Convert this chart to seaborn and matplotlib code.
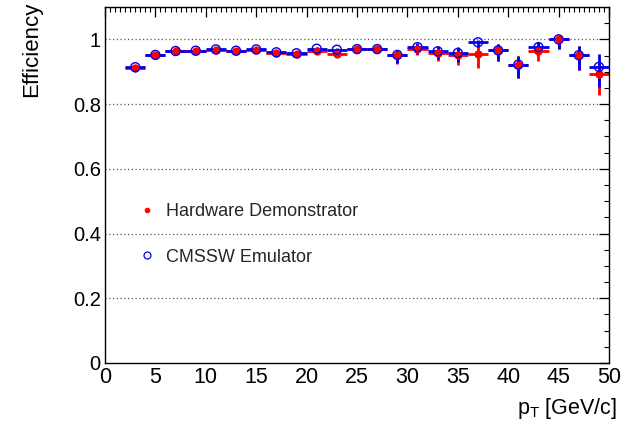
import numpy as np
import pandas as pd
import matplotlib
matplotlib.use("Agg")
import matplotlib.pyplot as plt
from matplotlib.ticker import MultipleLocator
from matplotlib.lines import Line2D
import seaborn as sns

sns.set_theme(style="white")
plt.rcParams['font.family'] = ['Liberation Sans', 'DejaVu Sans']
plt.rcParams['mathtext.fontset'] = 'custom'
plt.rcParams['mathtext.rm'] = 'Liberation Sans'

# ---- data ----
pt_centers = [3, 5, 7, 9, 11, 13, 15, 17, 19, 21, 23, 25,
              27, 29, 31, 33, 35, 37, 39, 41, 43, 45, 47, 49]
bin_halfwidth = 1.0

hw_eff = [0.913, 0.951, 0.963, 0.964, 0.966, 0.964, 0.968, 0.959, 0.956, 0.964, 0.956, 0.969,
          0.969, 0.951, 0.971, 0.958, 0.951, 0.956, 0.966, 0.922, 0.964, 1.000, 0.951, 0.894]
hw_err_lo = [0.004, 0.004, 0.004, 0.004, 0.004, 0.004, 0.005, 0.005, 0.006, 0.006, 0.007, 0.008,
             0.010, 0.026, 0.020, 0.025, 0.031, 0.046, 0.033, 0.042, 0.032, 0.031, 0.047, 0.065]
hw_err_hi = [0.004, 0.004, 0.004, 0.004, 0.004, 0.004, 0.005, 0.005, 0.006, 0.006, 0.006, 0.007,
             0.008, 0.017, 0.016, 0.018, 0.020, 0.023, 0.019, 0.026, 0.024, 0.000, 0.027, 0.040]

emu_eff = [0.914, 0.952, 0.964, 0.965, 0.969, 0.965, 0.969, 0.960, 0.957, 0.971, 0.968, 0.970,
           0.970, 0.952, 0.976, 0.963, 0.958, 0.991, 0.966, 0.922, 0.976, 1.000, 0.951, 0.915]
emu_err_lo = [0.004, 0.004, 0.004, 0.004, 0.004, 0.004, 0.005, 0.005, 0.006, 0.006, 0.006, 0.007,
              0.009, 0.026, 0.020, 0.025, 0.028, 0.014, 0.033, 0.042, 0.025, 0.031, 0.047, 0.062]
emu_err_hi = [0.004, 0.004, 0.004, 0.004, 0.004, 0.004, 0.005, 0.005, 0.005, 0.005, 0.006, 0.006,
              0.007, 0.016, 0.012, 0.015, 0.018, 0.007, 0.019, 0.026, 0.016, 0.000, 0.027, 0.041]

label_hw = "Hardware Demonstrator"
label_emu = "CMSSW Emulator"

df = pd.DataFrame({
    "pt": pt_centers * 2,
    "eff": hw_eff + emu_eff,
    "source": [label_hw] * len(pt_centers) + [label_emu] * len(pt_centers),
})

RED = "#ff0000"
BLUE = "#0000ee"

fig = plt.figure(figsize=(6.26, 4.26), dpi=100)
fig.patch.set_facecolor("white")
ax = fig.add_axes([105/626, 63/426, 504/626, 356/426])
ax.set_facecolor("white")

# grid (dotted horizontal)
for yv in [0.2, 0.4, 0.6, 0.8, 1.0]:
    ax.axhline(yv, color="#555555", lw=0.9, ls=(0, (1, 2)), zorder=0)

xerr = [bin_halfwidth] * len(pt_centers)
ax.errorbar(pt_centers, hw_eff, xerr=xerr, yerr=[hw_err_lo, hw_err_hi],
            fmt="none", ecolor=RED, elinewidth=2.0, capsize=0, zorder=2)
ax.errorbar(pt_centers, emu_eff, xerr=xerr, yerr=[emu_err_lo, emu_err_hi],
            fmt="none", ecolor=BLUE, elinewidth=2.0, capsize=0, zorder=3)

sns.scatterplot(data=df[df.source == label_hw], x="pt", y="eff", ax=ax,
                color=RED, s=36, edgecolor=RED, linewidth=0, zorder=4, legend=False)
sns.scatterplot(data=df[df.source == label_emu], x="pt", y="eff", ax=ax,
                facecolor="none", edgecolor=BLUE, s=42, linewidth=1.0, zorder=5, legend=False)

ax.set_xlim(0, 50)
ax.set_ylim(0, 1.1)
ax.set_xlabel("")
ax.set_ylabel("")

ax.xaxis.set_major_locator(MultipleLocator(5))
ax.xaxis.set_minor_locator(MultipleLocator(0.5))
ax.set_yticks([0, 0.2, 0.4, 0.6, 0.8, 1.0])
ax.set_yticklabels(["0", "0.2", "0.4", "0.6", "0.8", "1"])
ax.yaxis.set_minor_locator(MultipleLocator(0.05))
ax.tick_params(which="both", direction="in", top=True, right=True, colors="black")
ax.tick_params(which="major", length=7, width=0.9)
ax.tick_params(which="minor", length=3.5, width=0.8)
ax.tick_params(axis="x", pad=3, labelsize=15.5)
ax.tick_params(axis="y", pad=3, labelsize=14.5)
for sp in ax.spines.values():
    sp.set_color("black")
    sp.set_linewidth(1.0)

handles = [
    Line2D([], [], ls="none", marker="o", markersize=4, color=RED, markeredgewidth=0),
    Line2D([], [], ls="none", marker="o", markersize=5, markerfacecolor="none",
           markeredgecolor=BLUE, markeredgewidth=0.9),
]
ax.legend(handles, [label_hw, label_emu], loc="upper left",
          bbox_to_anchor=(0.052, 0.47), frameon=False, fontsize=13,
          handlelength=1.0, handletextpad=0.5, labelspacing=1.6, borderaxespad=0)

fig.text(32/626, 1 - 2/426, "Efficiency", rotation=90, ha="center", va="top",
         fontsize=16, color="black")
fig.text(617/626, 1 - 421/426, r"p$_\mathregular{T}$ [GeV/c]", ha="right", va="bottom",
         fontsize=15.5, color="black")

fig.savefig("out.png", dpi=100, facecolor="white")
